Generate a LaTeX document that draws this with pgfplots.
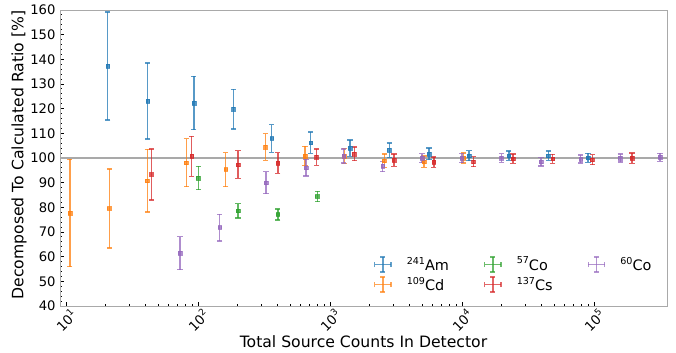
\documentclass[border=0pt]{standalone}
\usepackage{fontspec}
\setmainfont{DejaVu Sans}
\usepackage{pgfplots}
\pgfplotsset{compat=1.18}
\usepackage{pgfplotstable}
\definecolor{cA}{HTML}{1F77B4}
\definecolor{cB}{HTML}{FF7F0E}
\definecolor{cC}{HTML}{2CA02C}
\definecolor{cD}{HTML}{D62728}
\definecolor{cE}{HTML}{9467BD}
\definecolor{hline}{HTML}{A9A9A9}
\newcommand\sups[1]{\raisebox{0.42em}{\fontsize{9.6}{10}\selectfont #1}}
\newcommand\supt[1]{\raisebox{0.42em}{\fontsize{9}{10}\selectfont #1}}

\pgfplotstableread{
x y e
20.7 137.3 21.9
41.6 123.1 15.4
93 122.3 10.8
186 119.8 8.0
361 107.9 5.6
714 106.2 4.3
1419 104.0 3.3
2813 103.2 2.9
5623 101.7 2.4
11300 100.9 2.0
22600 100.9 1.9
45100 100.9 1.9
90100 100.1 1.8
}\amdata
\pgfplotstableread{
x y e
10.7 77.7 21.8
21.3 79.5 16.0
41.3 90.8 12.7
81.5 98.1 9.7
162 95.3 6.9
324 104.4 5.4
647 100.8 3.9
1283 100.8 3.0
2576 98.9 2.7
5150 98.5 2.3
10300 100.0 2.0
}\cddata
\pgfplotstableread{
x y e
100.5 91.9 4.7
201 78.6 2.9
402 77.1 2.2
802 84.4 2.1
}\codata
\pgfplotstableread{
x y e
44.5 93.3 10.3
89.5 100.7 8.1
201 97.3 5.6
402 98.0 4.2
790 100.3 3.3
1528 101.7 2.8
3055 99.1 2.5
6110 98.3 2.1
12200 98.5 2.0
24300 99.7 1.9
48600 99.7 1.8
97000 99.3 2.0
194000 99.9 2.1
}\csdata
\pgfplotstableread{
x y e
73 61.4 6.7
146 71.8 5.4
327 90.0 4.5
658 96.1 3.4
1270 100.8 2.8
2506 96.6 2.1
4980 99.9 1.8
9950 99.9 1.8
19900 100.0 1.7
39600 98.5 1.7
79200 99.6 1.6
158000 100.0 1.6
316000 100.3 1.6
}\cosixdata

\pgfplotsset{
  eb/.style={only marks, mark=square*, mark size=1.9bp, color=#1, opacity=0.75,
    mark options={fill=#1, draw=#1, solid},
    error bars/.cd, y dir=both, y explicit,
    error bar style={line width=1.5bp, draw=#1, color=#1, solid},
    error mark options={rotate=90, mark size=2.6bp, line width=1.3bp, draw=#1, color=#1},
    /pgfplots/.cd},
  ebleg/.style={legend image code/.code={
    \draw[line width=1.3bp] (0bp,0bp) -- (16.5bp,0bp);
    \draw[line width=1.3bp] (8.25bp,-7.5bp) -- (8.25bp,7.5bp);
    \draw[line width=1.3bp] (0bp,-2.6bp) -- (0bp,2.6bp);
    \draw[line width=1.3bp] (16.5bp,-2.6bp) -- (16.5bp,2.6bp);
    \draw[line width=1.3bp] (5.65bp,7.5bp) -- (10.85bp,7.5bp);
    \draw[line width=1.3bp] (5.65bp,-7.5bp) -- (10.85bp,-7.5bp);
  }, draw=#1, color=#1, opacity=0.7}
}

\begin{document}
\fontsize{13}{15}\selectfont
\begin{tikzpicture}
\begin{axis}[
  at={(0,0)}, anchor=south west,
  scale only axis, width=607bp, height=296bp,
  xmode=log, xmin=9.006, xmax=357000,
  ymin=40, ymax=160,
  ytick={40,50,...,160}, minor y tick num=4,
  xtick={10,100,1000,10000,100000},
  xticklabels={10\supt{1},10\supt{2},10\supt{3},10\supt{4},10\supt{5}},
  /pgf/number format/assume math mode=true,
  tick align=inside, xtick pos=bottom, ytick pos=left,
  axis line style={draw=hline, line width=0.9bp},
  major tick length=4bp, minor tick length=2.3bp,
  tick style={black, line width=0.9bp},
  tick label style={font=\fontsize{13.2}{15}\selectfont},
  xticklabel style={yshift=-14bp, rotate=45, anchor=center},
  every axis x label/.style={at={(axis description cs:0.5,0)}, yshift=-36bp, anchor=center},
  every axis y label/.style={at={(axis description cs:0,0.51)}, xshift=-41bp, rotate=90, anchor=center},
  label style={font=\fontsize{15.7}{18}\selectfont},
  xlabel={Total Source Counts In Detector},
  ylabel={Decomposed To Calculated Ratio [\%]},
  legend columns=3,
  legend style={draw=none, fill=none, at={(0.512,0.18)}, anchor=north west,
    font=\fontsize{14.5}{16}\selectfont, row sep=1bp,
    /tikz/every odd column/.append style={column sep=13bp},
    /tikz/every even column/.append style={column sep=33bp}},
  legend cell align=left,
]
\addplot[hline, line width=1.6bp, forget plot] coordinates {(9.006,100) (357000,100)};
\addplot[forget plot, eb=cA] table[x=x, y=y, y error=e] {\amdata};
\addplot[forget plot, eb=cB] table[x=x, y=y, y error=e] {\cddata};
\addplot[forget plot, eb=cC] table[x=x, y=y, y error=e] {\codata};
\addplot[forget plot, eb=cD] table[x=x, y=y, y error=e] {\csdata};
\addplot[forget plot, eb=cE] table[x=x, y=y, y error=e] {\cosixdata};
\addlegendimage{ebleg=cA}
\addlegendentry{\sups{241}Am}
\addlegendimage{ebleg=cC}
\addlegendentry{\sups{57}Co}
\addlegendimage{ebleg=cE}
\addlegendentry{\sups{60}Co}
\addlegendimage{ebleg=cB}
\addlegendentry{\sups{109}Cd}
\addlegendimage{ebleg=cD}
\addlegendentry{\sups{137}Cs}
\end{axis}
\pgfresetboundingbox
\useasboundingbox (-60bp,-47bp) rectangle (616bp,306bp);
\end{tikzpicture}
\end{document}
